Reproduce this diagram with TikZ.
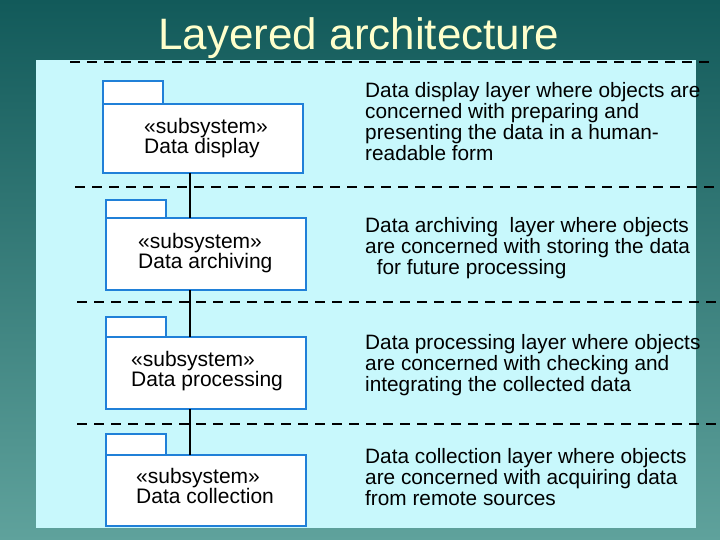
\documentclass[tikz,border=0pt]{standalone}
\usepackage{fontspec}
\setmainfont{Liberation Sans}
\begin{document}
\begin{tikzpicture}[x=1pt,y=-1pt,
  tabbox/.style={draw=boxblue,fill=white,line width=2.2pt},
  sep/.style={draw=black,line width=2pt,dash pattern=on 10pt off 7pt},
  desc/.style={anchor=north west,align=left,inner sep=0pt,font=\fontsize{20.8}{21}\selectfont},
  lab/.style={anchor=north west,align=left,inner sep=0pt,font=\fontsize{21}{20.5}\selectfont},
  conn/.style={draw=black,line width=1.5pt}]
\definecolor{boxblue}{HTML}{2080D8}
\definecolor{panel}{HTML}{C8F8FC}
\definecolor{bgtop}{HTML}{125A5A}
\definecolor{bgbot}{HTML}{5FA29C}
\definecolor{titlec}{HTML}{FFFFCC}
\shade[top color=bgtop,bottom color=bgbot] (0,0) rectangle (720,540);
\useasboundingbox (0,0) rectangle (720,540);
\fill[panel] (36,60) rectangle (696,528);
\node[font=\fontsize{44}{46}\selectfont,text=titlec] (title) at (359,38) {Layered architecture};
\draw[sep] (70,62) -- (716,62);
\draw[sep] (75,187) -- (716,187);
\draw[sep] (77,302) -- (716,302);
\draw[sep] (77,424) -- (716,424);
\foreach \n/\x/\ty/\my/\by/\tx/\lx/\ly in {
 a/103/81/104/173/{Data display}/144/118,
 b/106/200/218/290/{Data archiving}/138/233,
 c/106/317/337/409/{Data processing}/131/351,
 d/106/434/455/526/{Data collection}/136/468}{
  \draw[tabbox] (\x,\ty) rectangle (\x+60,\my);
  \draw[tabbox] (\x,\my) rectangle (\x+200,\by);
  \node[lab] (l\n) at (\lx,\ly) {«subsystem»\\\tx};
  \coordinate (b\n) at (190,\by);
}
\draw[conn] (ba) -- (190,218);
\draw[conn] (bb) -- (190,337);
\draw[conn] (bc) -- (190,455);
\node[desc] (d1) at (365,82) {Data display layer where objects are\\concerned with preparing and\\presenting the data in a human-\\readable form};
\node[desc] (d2) at (365,217) {Data archiving\ \ layer where objects\\are concerned with storing the data\\\ \ for future processing};
\node[desc] (d3) at (365,334) {Data processing layer where objects\\are concerned with checking and\\integrating the collected data};
\node[desc] (d4) at (365,448) {Data collection layer where objects\\are concerned with acquiring data\\from remote sources};
\end{tikzpicture}
\end{document}
